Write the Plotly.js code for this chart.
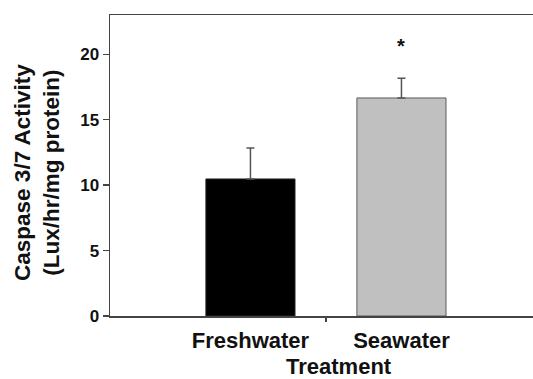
<!DOCTYPE html>
<html>
<head>
<meta charset="utf-8">
<script src="https://cdn.plot.ly/plotly-3.0.1.min.js"></script>
<style>html,body{margin:0;padding:0;background:#fff;}#chart{width:533px;height:379px;}</style>
</head>
<body>
<div id="chart"></div>
<script>
// Data
const categories = ['Freshwater', 'Seawater'];
const means = [10.47, 16.66];
const sem = [2.36, 1.5];
const barColors = ['#000000', '#c0c0c0'];
const barLineColors = ['#222222', '#5a5a5a'];
const yTicks = [0, 5, 10, 15, 20];
const significance = ['', '*'];

const xPos = categories.map((c, i) => i);
const FONT = 'Liberation Sans, Arial, Helvetica, sans-serif';

const trace = {
  type: 'bar',
  x: xPos,
  y: means,
  width: 0.59,
  marker: { color: barColors, line: { color: barLineColors, width: 1 } },
  error_y: { type: 'data', array: sem, arrayminus: sem.map(() => 0), symmetric: false,
             color: '#555555', thickness: 1.5, width: 4 },
  hoverinfo: 'none'
};

const annotations = [];
significance.forEach((s, i) => {
  if (s) annotations.push({
    x: xPos[i], y: means[i] + sem[i] + 2.5, xref: 'x', yref: 'y', text: s, showarrow: false,
    font: { family: FONT, size: 20, color: '#111', weight: 'bold' }, yanchor: 'middle'
  });
});
annotations.push({
  xref: 'paper', yref: 'paper', x: 0.541, y: -0.118, yanchor: 'top', text: 'Treatment', showarrow: false,
  font: { family: FONT, size: 22, color: '#111', weight: 'bold' }
});
annotations.push({
  xref: 'paper', yref: 'paper', x: -0.173, y: 0.478, textangle: -90, xanchor: 'center', yanchor: 'middle',
  text: 'Caspase 3/7 Activity<br>(Lux/hr/mg protein)', showarrow: false,
  font: { family: FONT, size: 22.5, color: '#111', weight: 'bold' }
});

const layout = {
  width: 533, height: 379,
  margin: { l: 110, r: 0, t: 15, b: 63 },
  paper_bgcolor: '#ffffff', plot_bgcolor: '#ffffff',
  showlegend: false,
  font: { family: FONT, color: '#111' },
  xaxis: {
    range: [-0.93, 1.871], tickvals: xPos, ticktext: categories, ticks: '',
    showline: true, mirror: true, linecolor: '#444', linewidth: 1.5,
    showgrid: false, zeroline: false, ticklabelstandoff: 4,
    tickfont: { family: FONT, size: 22, color: '#111', weight: 'bold' },
    minor: { tickmode: 'array', tickvals: [0.5], ticks: 'outside', ticklen: 4, tickcolor: '#444', tickwidth: 1.5, showgrid: false }
  },
  yaxis: {
    range: [0, 23], tickvals: yTicks, ticks: 'outside', ticklen: 6, tickcolor: '#444', tickwidth: 1.5,
    showline: true, linecolor: '#444', linewidth: 1.5, showgrid: false, zeroline: false,
    tickfont: { family: FONT, size: 17, color: '#111', weight: 'bold' }
  },
  annotations: annotations
};

Plotly.newPlot('chart', [trace], layout, { staticPlot: true, displayModeBar: false });
</script>
</body>
</html>
